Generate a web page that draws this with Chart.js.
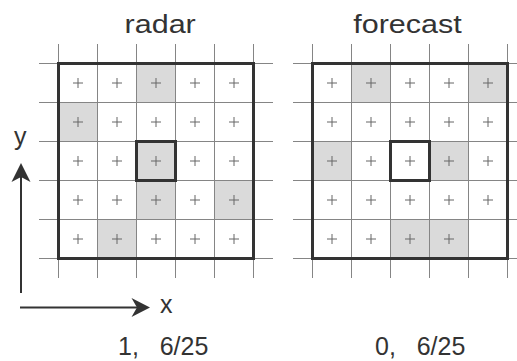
<!DOCTYPE html>
<html>
<head>
<meta charset="utf-8">
<script src="https://cdn.jsdelivr.net/npm/chart.js@4/dist/chart.umd.min.js"></script>
<style>
  html, body { margin: 0; padding: 0; background: #fff; overflow: hidden; }
  body { width: 517px; height: 361px; position: relative; font-family: "Liberation Sans", Arial, sans-serif; color: #333; }
  .panel { position: absolute; }
  .txt { position: absolute; line-height: 1; white-space: pre; font-size: 25px; }
  .title { transform: scaleX(1.22); transform-origin: 50% 50%; }
  svg { position: absolute; left: 0; top: 0; }
</style>
</head>
<body>
<canvas id="radarPanel" class="panel" width="234" height="234" style="left:39px;top:44px"></canvas>
<canvas id="forecastPanel" class="panel" width="234" height="234" style="left:293px;top:44px"></canvas>

<div id="titleRadar" class="txt title"></div>
<div id="titleForecast" class="txt title"></div>
<div id="scoreRadar" class="txt"></div>
<div id="scoreForecast" class="txt"></div>
<div class="txt" style="left:14px;top:124px">y</div>
<div class="txt" style="left:160px;top:292px">x</div>

<svg width="517" height="361">
  <line x1="21" y1="293" x2="21" y2="172" stroke="#333" stroke-width="2"/>
  <path d="M21,163 L11.5,182 L21,177 L30.5,182 Z" fill="#333"/>
  <line x1="20" y1="307.5" x2="141" y2="307.5" stroke="#333" stroke-width="2"/>
  <path d="M150,307.5 L131.5,298 L137,307.5 L131.5,317 Z" fill="#333"/>
</svg>

<script>
// Panel names
const panelTitles = ['radar', 'forecast'];

// Grid line positions (cell edges) along both axes
const gridLines = [0, 1, 2, 3, 4, 5];

// Occupied cells, rows listed top to bottom, columns left to right
const radarCells = [
  [0, 0, 1, 0, 0],
  [1, 0, 0, 0, 0],
  [0, 0, 1, 0, 0],
  [0, 0, 1, 0, 1],
  [0, 1, 0, 0, 0]
];
const forecastCells = [
  [0, 1, 0, 0, 1],
  [0, 0, 0, 0, 0],
  [1, 0, 0, 1, 0],
  [0, 0, 0, 0, 0],
  [0, 0, 1, 1, 0]
];

// Cells without a "+" marker, as [row, col]
const radarNoMark = [];
const forecastNoMark = [[4, 4]];

// The verified cell, as [row, col]
const centerCell = [2, 2];

// Shaded cells under the grid, heavy frames on top
const cellPlugin = {
  id: 'cells',
  beforeDraw(chart, args, opts) {
    const { ctx, scales: { x, y } } = chart;
    ctx.save();
    ctx.fillStyle = '#dadada';
    opts.grid.forEach((row, r) => row.forEach((v, c) => {
      if (!v) return;
      const x0 = x.getPixelForValue(c), x1 = x.getPixelForValue(c + 1);
      const y0 = y.getPixelForValue(r), y1 = y.getPixelForValue(r + 1);
      ctx.fillRect(x0, y0, x1 - x0, y1 - y0);
    }));
    ctx.restore();
  },
  afterDatasetsDraw(chart, args, opts) {
    const { ctx, scales: { x, y } } = chart;
    const n = opts.grid.length;
    const [cr, cc] = opts.center;
    ctx.save();
    ctx.strokeStyle = '#333';
    ctx.lineWidth = 3;
    const frame = (c0, r0, c1, r1) => {
      const x0 = x.getPixelForValue(c0), x1 = x.getPixelForValue(c1);
      const y0 = y.getPixelForValue(r0), y1 = y.getPixelForValue(r1);
      ctx.strokeRect(x0, y0, x1 - x0, y1 - y0);
    };
    frame(0, 0, n, n);
    frame(cc, cr, cc + 1, cr + 1);
    ctx.restore();
  }
};

function axis(reverse) {
  return {
    type: 'linear',
    min: gridLines[0] - 0.5,
    max: gridLines[gridLines.length - 1] + 0.5,
    reverse: reverse,
    afterBuildTicks: (scale) => { scale.ticks = gridLines.map(v => ({ value: v })); },
    ticks: { display: false },
    border: { display: false },
    grid: { color: '#858585', lineWidth: 1, drawTicks: false }
  };
}

function makePanel(id, grid, noMark) {
  const points = [];
  grid.forEach((row, r) => row.forEach((v, c) => {
    if (noMark.some(([mr, mc]) => mr === r && mc === c)) return;
    points.push({ x: c + 0.5, y: r + 0.5 });
  }));
  new Chart(document.getElementById(id), {
    type: 'scatter',
    data: {
      datasets: [{
        data: points,
        pointStyle: 'cross',
        pointRadius: 5,
        pointBorderColor: '#666',
        pointBackgroundColor: '#666',
        pointBorderWidth: 1
      }]
    },
    options: {
      responsive: false,
      animation: false,
      devicePixelRatio: 1,
      events: [],
      layout: { padding: 0, autoPadding: false },
      plugins: {
        legend: { display: false },
        tooltip: { enabled: false },
        cells: { grid: grid, center: centerCell }
      },
      scales: { x: axis(false), y: axis(true) }
    },
    plugins: [cellPlugin]
  });
}

function scoreText(grid) {
  const hits = grid.flat().filter(v => v).length;
  const total = grid.flat().length;
  return `${grid[centerCell[0]][centerCell[1]]},   ${hits}/${total}`;
}

makePanel('radarPanel', radarCells, radarNoMark);
makePanel('forecastPanel', forecastCells, forecastNoMark);

function placeText(id, text, cx, top) {
  const el = document.getElementById(id);
  el.textContent = text;
  el.style.top = top + 'px';
  el.style.left = (cx - el.offsetWidth / 2) + 'px';
}
placeText('titleRadar', panelTitles[0], 159.5, 12);
placeText('titleForecast', panelTitles[1], 407.5, 12);
const sr = document.getElementById('scoreRadar');
sr.textContent = scoreText(radarCells);
sr.style.left = '118px'; sr.style.top = '334px';
const sf = document.getElementById('scoreForecast');
sf.textContent = scoreText(forecastCells);
sf.style.left = '375px'; sf.style.top = '334px';
</script>
</body>
</html>
